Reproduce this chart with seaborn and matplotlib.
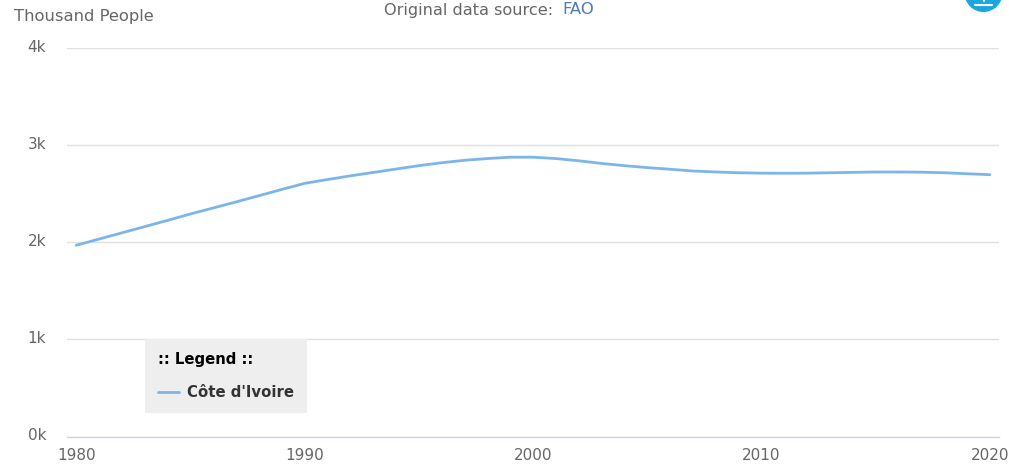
# Cote d'Ivoire - thousand people, 1980-2020
import matplotlib
matplotlib.use('Agg')
import matplotlib.pyplot as plt
import pandas as pd
import seaborn as sns
from matplotlib.patches import Circle
from matplotlib.transforms import ScaledTranslation

years = list(range(1980, 2021))
people = [1966, 2030, 2094, 2158, 2222, 2288, 2350, 2412, 2476, 2540,
          2603, 2642, 2680, 2715, 2750, 2785, 2815, 2840, 2858, 2872,
          2872, 2858, 2835, 2808, 2785, 2765, 2748, 2730, 2720, 2712,
          2708, 2707, 2708, 2712, 2716, 2720, 2720, 2718, 2712, 2702, 2692]
country = "Côte d'Ivoire"
x_ticks = [1980, 1990, 2000, 2010, 2020]
y_ticks = [0, 1000, 2000, 3000, 4000]
y_labels = ['0k', '1k', '2k', '3k', '4k']

W, H = 1009, 467

sns.set_theme(style='white')
plt.rcParams['font.family'] = ['DejaVu Sans']

fig = plt.figure(figsize=(W / 100, H / 100), dpi=100)
ax = fig.add_axes([67 / W, 1 - 436.5 / H, (999 - 67) / W, (436.5 - 47.5) / H])

df = pd.DataFrame({'year': years, 'people': people})
sns.lineplot(data=df, x='year', y='people', color='#7cb5ec', linewidth=2,
             label=country, ax=ax, zorder=3)

ax.set_xlim(1979.6, 2020.4)
ax.set_ylim(0, 4000)
ax.set_xlabel('')
ax.set_ylabel('')
ax.set_xticks(x_ticks)
ax.set_yticks(y_ticks)
ax.set_yticklabels(y_labels)
ax.tick_params(axis='both', length=0, labelsize=11, labelcolor='#666666')
ax.tick_params(axis='x', pad=8.5)
ax.tick_params(axis='y', pad=15)
# y labels sit a little above their grid lines
for lab in ax.get_yticklabels():
    lab.set_transform(lab.get_transform() + ScaledTranslation(0, 2 / 100, fig.dpi_scale_trans))
ax.yaxis.grid(True, color='#e0e0e0', linewidth=1)
ax.set_axisbelow(True)
sns.despine(ax=ax, left=True, top=True, right=True)
ax.spines['bottom'].set_color('#ccd6eb')
ax.spines['bottom'].set_linewidth(1)

leg = ax.legend(title=':: Legend ::', loc='lower left',
                bbox_to_anchor=(145 / W, 1 - 413 / H), bbox_transform=fig.transFigure,
                frameon=True, fancybox=False, facecolor='#eeeeee', edgecolor='none',
                framealpha=1, fontsize=10.7, title_fontsize=10.7, borderaxespad=0,
                handlelength=1.47, handletextpad=0.53, borderpad=0.85, labelspacing=1.25)
leg.get_title().set_fontweight('bold')
leg.get_title().set_color('#000000')
leg._legend_box.align = 'left'
leg.get_texts()[0].set_fontweight('bold')
leg.get_texts()[0].set_color('#333333')

fig.text(14 / W, 1 - 16 / H, 'Thousand People', fontsize=11.8, color='#666666',
         ha='left', va='center')
fig.text(384 / W, 1 - 10 / H, 'Original data source: ', fontsize=11.6, color='#666666',
         ha='left', va='center')
fig.text(562 / W, 1 - 10 / H, 'FAO', fontsize=11.8, color='#4d79c7',
         ha='left', va='center')

# export icon, cut off by the top edge
bg = fig.add_axes([0, 0, 1, 1], facecolor='none')
bg.set_xlim(0, W)
bg.set_ylim(H, 0)
bg.axis('off')
bg.add_patch(Circle((983.5, -7), 18.3, color='#1aa7e0', clip_on=True))
bg.plot([975, 992], [4.5, 4.5], color='white', linewidth=1.5)
bg.plot([983.5, 983.5], [-1, 1], color='white', linewidth=1.5)

fig.savefig('out.png', dpi=100)
